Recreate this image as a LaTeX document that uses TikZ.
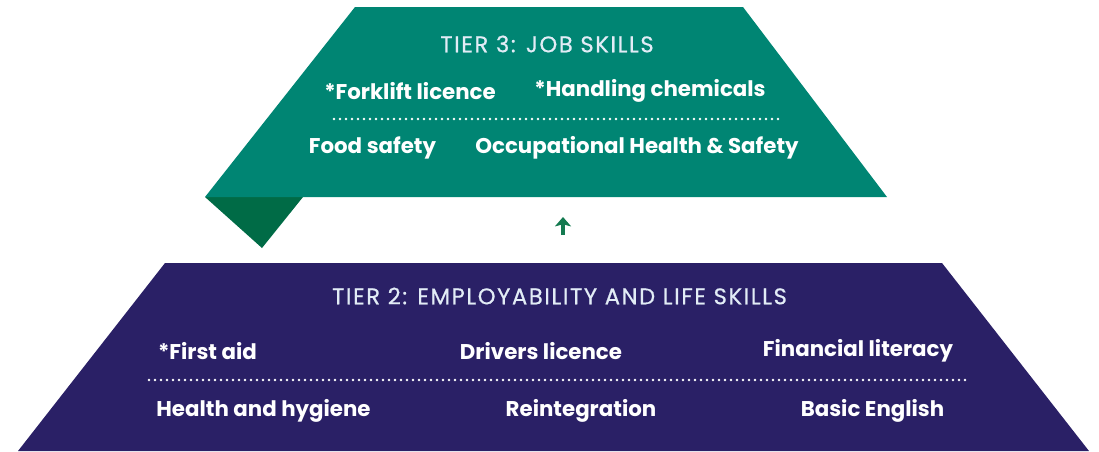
\documentclass[tikz,border=0pt]{standalone}
\usepackage{fontspec}
\setmainfont{Poppins}
\usetikzlibrary{arrows.meta}
\definecolor{tealtier}{RGB}{0,133,115}
\definecolor{foldgreen}{RGB}{0,107,70}
\definecolor{navytier}{RGB}{42,32,102}
\definecolor{arrowgreen}{RGB}{20,122,80}
\definecolor{titletint}{RGB}{226,236,246}
\begin{document}
\begin{tikzpicture}[x=0.75pt,y=-0.75pt,
  title/.style={text=titletint, font=\fontsize{17}{19}\selectfont\addfontfeatures{LetterSpace=7,FakeBold=0.6}, inner sep=0pt},
  item/.style={text=white, font=\bfseries\fontsize{16}{18}\selectfont, inner sep=0pt},
  dotrule/.style={white, line width=2pt, line cap=round, dash pattern=on 0pt off 4.5pt}]
\useasboundingbox (0,0) rectangle (1099,451);
% tier 3 panel and its folded corner
\fill[foldgreen] (205,197) -- (303,197) -- (262,248) -- cycle;
\fill[tealtier] (355,7) -- (743,7) -- (887,197) -- (205,197) -- cycle;
% tier 2 panel
\fill[navytier] (165,263) -- (942,263) -- (1089,451) -- (18,451) -- cycle;
% tier 3 texts
\node[title] (t3) at (547,44) {TIER 3: JOB SKILLS};
\node[item] (fork) at (410,91) {*Forklift licence};
\node[item] (chem) at (650,91) {*Handling chemicals};
\coordinate (d3a) at (334,119);
\coordinate (d3b) at (784,119);
\draw[dotrule] (d3a) -- (d3b);
\node[item] (food) at (372.5,148) {Food safety};
\node[item] (ohs) at (637,148) {Occupational Health \& Safety};
% arrow between tiers
\coordinate (ua) at (563,235);
\coordinate (ub) at (563,217);
\draw[arrowgreen, line width=3pt, -{Stealth[length=7pt,width=12pt,inset=1.5pt]}] (ua) -- (ub);
% tier 2 texts
\node[title] (t2) at (559.5,296) {TIER 2: EMPLOYABILITY AND LIFE SKILLS};
\node[item] (aid) at (207.5,351) {*First aid};
\node[item] (drv) at (541,351) {Drivers licence};
\node[item] (fin) at (858,351) {Financial literacy};
\coordinate (d2a) at (149,380);
\coordinate (d2b) at (969,380);
\draw[dotrule] (d2a) -- (d2b);
\node[item] (hyg) at (263.5,411) {Health and hygiene};
\node[item] (reint) at (581,411) {Reintegration};
\node[item] (eng) at (872.5,411) {Basic English};
\end{tikzpicture}
\end{document}
